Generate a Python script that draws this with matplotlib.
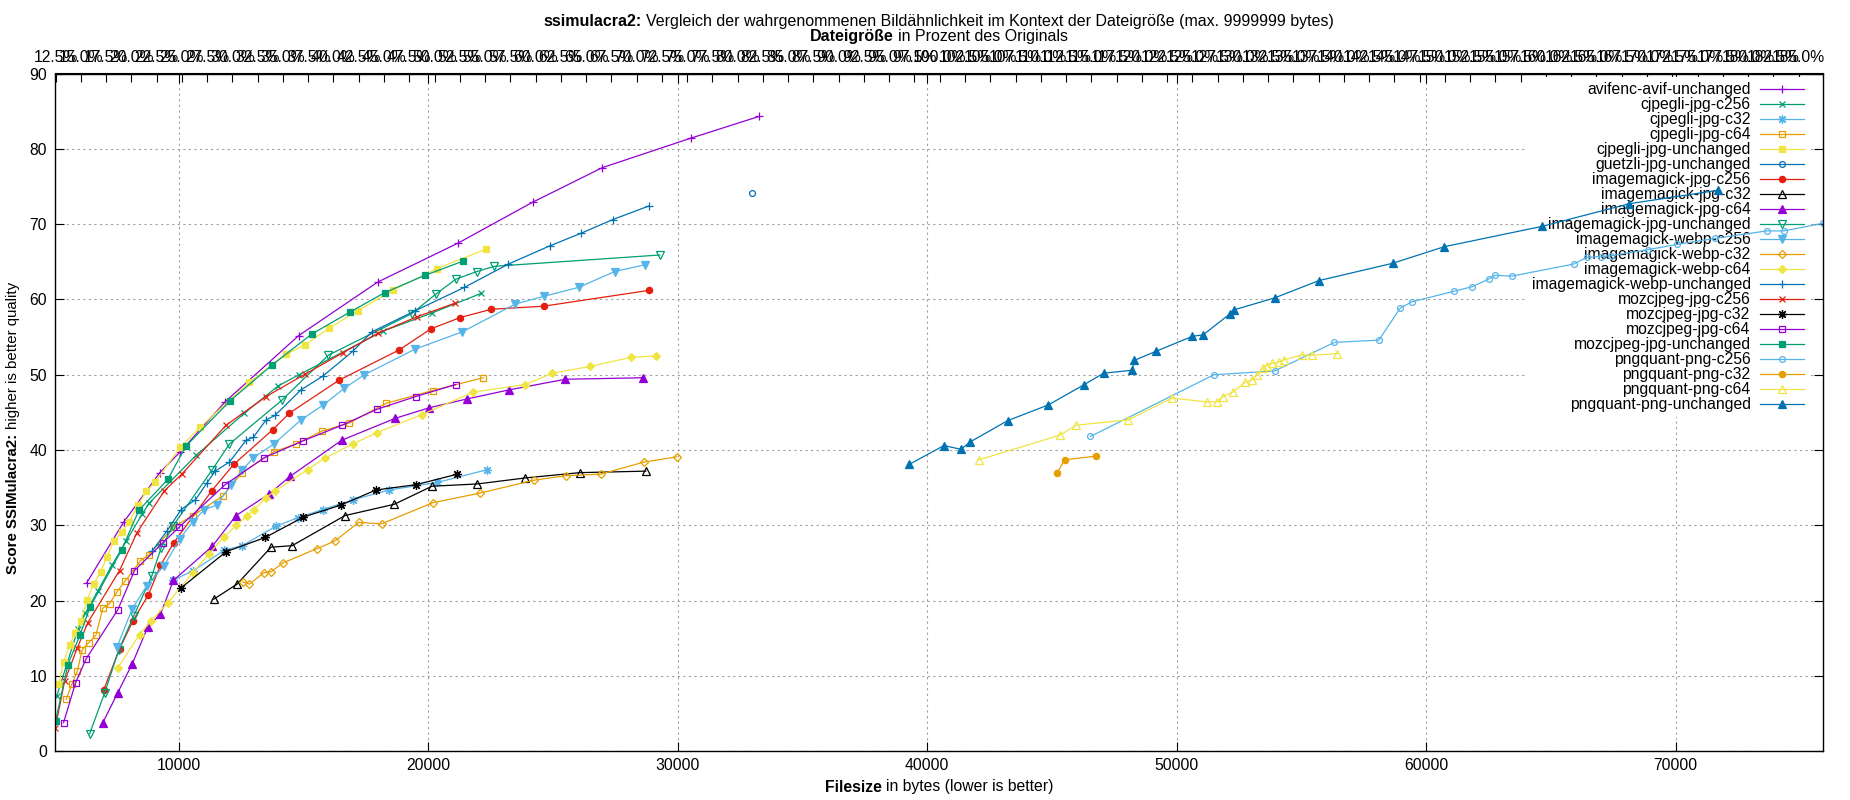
import numpy as np
import matplotlib
matplotlib.use("Agg")
import matplotlib.pyplot as plt
from matplotlib.lines import Line2D

FONT = "Liberation Sans"
FS = 11.3
plt.rcParams['font.family'] = [FONT, 'DejaVu Sans']

# ---------------- data ----------------
series_names = [
    "avifenc-avif-unchanged", "cjpegli-jpg-c256", "cjpegli-jpg-c32", "cjpegli-jpg-c64",
    "cjpegli-jpg-unchanged", "guetzli-jpg-unchanged", "imagemagick-jpg-c256", "imagemagick-jpg-c32",
    "imagemagick-jpg-c64", "imagemagick-jpg-unchanged", "imagemagick-webp-c256", "imagemagick-webp-c32",
    "imagemagick-webp-c64", "imagemagick-webp-unchanged", "mozcjpeg-jpg-c256", "mozcjpeg-jpg-c32",
    "mozcjpeg-jpg-c64", "mozcjpeg-jpg-unchanged", "pngquant-png-c256", "pngquant-png-c32",
    "pngquant-png-c64", "pngquant-png-unchanged",
]

avifenc_avif_unchanged_x = [6315, 7784, 9239, 10067, 11856, 14806, 17970, 21205, 24178, 26976, 30511, 33256]
avifenc_avif_unchanged_y = [22.4, 30.4, 37.0, 39.8, 46.4, 55.2, 62.3, 67.5, 72.9, 77.5, 81.4, 84.3]

cjpegli_jpg_c256_x = [5114, 5955, 6249, 6756, 7317, 7891, 8531, 8825, 10694, 12630, 13978, 14819, 18197, 20147, 22116]
cjpegli_jpg_c256_y = [7.4, 16.2, 18.3, 21.3, 24.7, 27.9, 31.5, 33.0, 39.3, 44.9, 48.5, 50.0, 55.8, 58.2, 60.8]

cjpegli_jpg_c32_x = [9760, 10587, 11829, 12537, 13898, 14766, 15767, 16995, 18437, 20362, 22370]
cjpegli_jpg_c32_y = [22.7, 24.0, 26.7, 27.3, 29.9, 31.0, 32.1, 33.4, 34.7, 35.7, 37.4]

cjpegli_jpg_c64_x = [5488, 5715, 5928, 6129, 6382, 6676, 6956, 7223, 7530, 7851, 8465, 8798, 9786, 10561,
                     11762, 12537, 13832, 14699, 15727, 16835, 18304, 20173, 22209]
cjpegli_jpg_c64_y = [6.9, 8.9, 10.6, 13.5, 14.4, 15.4, 19.0, 19.6, 21.2, 22.6, 25.3, 26.1, 29.8, 31.3,
                     33.9, 37.0, 39.8, 40.8, 42.5, 43.6, 46.2, 47.9, 49.6]

cjpegli_jpg_unchanged_x = [5194, 5381, 5621, 5835, 6075, 6329, 6582, 6863, 7116, 7397, 7717, 7997, 8371, 8692,
                           9039, 10067, 10841, 12830, 14299, 15073, 16034, 17169, 18571, 20347, 22330]
cjpegli_jpg_unchanged_y = [9.0, 11.8, 14.1, 15.7, 17.3, 20.1, 22.2, 23.8, 25.8, 27.9, 29.1, 30.4, 32.7, 34.5,
                           35.7, 40.4, 43.0, 49.0, 52.7, 54.0, 56.2, 58.5, 61.2, 64.1, 66.7]

guetzli_jpg_unchanged_x = [32975]
guetzli_jpg_unchanged_y = [74.1]

imagemagick_jpg_c256_x = [6996, 7624, 8158, 8785, 9266, 9800, 11322, 12203, 13765, 14432, 16435, 18838, 20107,
                          21285, 22531, 24620, 28837]
imagemagick_jpg_c256_y = [8.2, 13.6, 17.3, 20.8, 24.7, 27.7, 34.6, 38.1, 42.7, 44.9, 49.3, 53.3, 56.1,
                          57.6, 58.7, 59.1, 61.2]

imagemagick_jpg_c32_x = [11402, 12336, 13698, 14539, 16662, 18637, 20150, 21968, 23896, 26066, 28717]
imagemagick_jpg_c32_y = [20.2, 22.2, 27.1, 27.3, 31.3, 32.8, 35.2, 35.5, 36.3, 37.0, 37.2]

imagemagick_jpg_c64_x = [6956, 7557, 8131, 8758, 9266, 9786, 11335, 12296, 13631, 14459, 16528, 18664, 20020,
                         21567, 23254, 25490, 28596]
imagemagick_jpg_c64_y = [3.8, 7.8, 11.6, 16.5, 18.2, 22.7, 27.2, 31.3, 34.2, 36.5, 41.3, 44.2, 45.6,
                         46.8, 48.0, 49.4, 49.6]

imagemagick_jpg_unchanged_x = [6422, 7023, 7597, 8198, 8919, 9292, 9760, 11322, 12029, 14125, 15994, 19332,
                               20300, 21111, 21942, 22651, 29279]
imagemagick_jpg_unchanged_y = [2.3, 7.7, 13.5, 18.0, 23.3, 27.0, 29.9, 37.3, 40.8, 46.6, 52.6, 58.1,
                               60.7, 62.7, 63.7, 64.4, 65.9]

imagemagick_webp_c256_x = [7530, 8131, 8718, 9399, 10040, 10561, 11028, 11522, 12096, 12537, 12964, 13805,
                           14899, 15794, 16635, 17436, 19470, 21366, 23495, 24620, 26026, 27472, 28677]
imagemagick_webp_c256_y = [13.9, 18.9, 22.0, 24.6, 28.2, 30.5, 32.1, 32.7, 35.4, 37.3, 38.9, 40.8,
                           44.0, 46.0, 48.2, 50.0, 53.4, 55.7, 59.4, 60.4, 61.6, 63.7, 64.6]

imagemagick_webp_c32_x = [12563, 12830, 13404, 13685, 14165, 15527, 16248, 17209, 18130, 20173, 22089, 24245,
                          25517, 26923, 28637, 29962]
imagemagick_webp_c32_y = [22.5, 22.2, 23.7, 23.8, 25.0, 26.9, 27.9, 30.4, 30.2, 33.0, 34.3, 36.0,
                          36.6, 36.8, 38.4, 39.1]

imagemagick_webp_c64_x = [7557, 8425, 8892, 9559, 10561, 11202, 11829, 12296, 12724, 13004, 13498, 13872,
                          15166, 15847, 16969, 17930, 19740, 21808, 23883, 24968, 26468, 28115, 29119]
imagemagick_webp_c64_y = [11.1, 15.5, 17.3, 19.7, 23.7, 26.2, 28.5, 30.0, 31.2, 32.0, 33.7, 34.6,
                          37.4, 38.9, 40.8, 42.3, 44.7, 47.7, 48.7, 50.2, 51.1, 52.3, 52.5]

imagemagick_webp_unchanged_x = [8932, 9533, 10093, 10668, 11121, 11455, 12029, 12697, 12990, 13498, 13858,
                                14899, 15767, 16969, 17743, 19478, 21446, 23214, 24861, 26133, 27391, 28837]
imagemagick_webp_unchanged_y = [26.6, 29.3, 32.1, 33.4, 35.6, 37.2, 38.4, 41.3, 41.7, 44.0, 44.6,
                                48.0, 49.8, 53.1, 55.7, 58.5, 61.6, 64.7, 67.1, 68.8, 70.6, 72.4]

mozcjpeg_jpg_c256_x = [5050, 5421, 5928, 6356, 7624, 8318, 9426, 10120, 11896, 13498, 15073, 16568, 17970,
                       19550, 21071]
mozcjpeg_jpg_c256_y = [3.1, 9.3, 13.7, 17.1, 24.0, 29.0, 34.6, 36.8, 43.3, 47.1, 50.1, 52.9, 55.5,
                       57.7, 59.5]

mozcjpeg_jpg_c32_x = [10093, 11896, 13471, 14993, 16502, 17903, 19505, 21165]
mozcjpeg_jpg_c32_y = [21.7, 26.5, 28.4, 31.1, 32.7, 34.7, 35.4, 36.8]

mozcjpeg_jpg_c64_x = [5381, 5862, 6289, 7557, 8224, 9359, 10027, 11856, 13431, 14966, 16542, 17930, 19490, 21098]
mozcjpeg_jpg_c64_y = [3.8, 9.1, 12.3, 18.8, 24.0, 27.7, 29.8, 35.4, 39.0, 41.2, 43.3, 45.4, 47.1, 48.7]

mozcjpeg_jpg_unchanged_x = [5060, 5554, 6035, 6449, 7704, 8398, 9559, 10280, 12043, 13738, 15327, 16849,
                            18250, 19866, 21406]
mozcjpeg_jpg_unchanged_y = [4.0, 11.5, 15.4, 19.2, 26.7, 32.0, 36.1, 40.5, 46.5, 51.3, 55.4, 58.3,
                            60.9, 63.2, 65.1]

pngquant_png_c256_x = [46539, 51491, 53919, 56323, 58102, 58968, 59448, 61131, 61853, 62502, 62742, 63439,
                       65915, 66444, 67010, 67412, 68872, 70050, 71565, 73656, 74329, 75892]
pngquant_png_c256_y = [41.8, 50.0, 50.5, 54.3, 54.6, 58.9, 59.7, 61.1, 61.7, 62.7, 63.2, 63.1,
                       64.7, 65.6, 65.7, 65.8, 66.6, 67.3, 68.1, 69.1, 69.1, 70.1]

pngquant_png_c32_x = [45217, 45505, 46779]
pngquant_png_c32_y = [37.0, 38.7, 39.2]

pngquant_png_c64_x = [42067, 45337, 45962, 48053, 49808, 51202, 51611, 51852, 52260, 52741, 53005, 53222,
                      53462, 53606, 53823, 54087, 54304, 55001, 55434, 56443]
pngquant_png_c64_y = [38.7, 42.0, 43.3, 44.0, 46.9, 46.4, 46.4, 47.1, 47.7, 49.0, 49.3, 50.0,
                      50.9, 51.2, 51.5, 51.7, 52.0, 52.6, 52.6, 52.8]

pngquant_png_unchanged_x = [39279, 40673, 41346, 41731, 43221, 44856, 46298, 47068, 48222, 48294, 49159,
                            50626, 51058, 52140, 52284, 53919, 55698, 58655, 60722, 64641, 68127, 71705]
pngquant_png_unchanged_y = [38.1, 40.6, 40.1, 41.1, 43.9, 46.0, 48.7, 50.2, 50.6, 51.9, 53.1,
                            55.1, 55.3, 58.1, 58.6, 60.2, 62.5, 64.8, 67.0, 69.7, 72.7, 74.5]

series_x = [avifenc_avif_unchanged_x, cjpegli_jpg_c256_x, cjpegli_jpg_c32_x, cjpegli_jpg_c64_x,
            cjpegli_jpg_unchanged_x, guetzli_jpg_unchanged_x, imagemagick_jpg_c256_x, imagemagick_jpg_c32_x,
            imagemagick_jpg_c64_x, imagemagick_jpg_unchanged_x, imagemagick_webp_c256_x, imagemagick_webp_c32_x,
            imagemagick_webp_c64_x, imagemagick_webp_unchanged_x, mozcjpeg_jpg_c256_x, mozcjpeg_jpg_c32_x,
            mozcjpeg_jpg_c64_x, mozcjpeg_jpg_unchanged_x, pngquant_png_c256_x, pngquant_png_c32_x,
            pngquant_png_c64_x, pngquant_png_unchanged_x]
series_y = [avifenc_avif_unchanged_y, cjpegli_jpg_c256_y, cjpegli_jpg_c32_y, cjpegli_jpg_c64_y,
            cjpegli_jpg_unchanged_y, guetzli_jpg_unchanged_y, imagemagick_jpg_c256_y, imagemagick_jpg_c32_y,
            imagemagick_jpg_c64_y, imagemagick_jpg_unchanged_y, imagemagick_webp_c256_y, imagemagick_webp_c32_y,
            imagemagick_webp_c64_y, imagemagick_webp_unchanged_y, mozcjpeg_jpg_c256_y, mozcjpeg_jpg_c32_y,
            mozcjpeg_jpg_c64_y, mozcjpeg_jpg_unchanged_y, pngquant_png_c256_y, pngquant_png_c32_y,
            pngquant_png_c64_y, pngquant_png_unchanged_y]

original_size = 40500  # bytes (100 %)
x_ticks = [10000, 20000, 30000, 40000, 50000, 60000, 70000]
y_ticks = [0, 10, 20, 30, 40, 50, 60, 70, 80, 90]
pct_ticks = list(np.arange(12.5, 185.01, 2.5))

# ---------------- styles (gnuplot default cycles) ----------------
palette = ["#9400D3", "#009E73", "#56B4E9", "#E69F00", "#F0E442", "#0072B2", "#E51E10", "#000000"]
# (marker, filled, size)
ptypes = [("+", True, 6.0), ("x", True, 5.0), ((8, 2, 0), True, 6.5), ("s", False, 4.8), ("s", True, 5.0),
          ("o", False, 4.2), ("o", True, 4.5), ("^", False, 5.5), ("^", True, 5.5), ("v", False, 5.5),
          ("v", True, 5.5), ("D", False, 4.0), ("D", True, 4.0)]

W, H = 1850, 800
fig = plt.figure(figsize=(W / 100, H / 100), dpi=100)
L, R, T, B = 55.3, 1822.7, 73.5, 751.3
ax = fig.add_axes([L / W, 1 - B / H, (R - L) / W, (B - T) / H])

handles = []
for i, (name, xs, ys) in enumerate(zip(series_names, series_x, series_y)):
    col = palette[i % 8]
    mk, filled, ms = ptypes[i % 13]
    kw = dict(color=col, lw=0.9, marker=mk, markersize=ms, markeredgewidth=0.9,
              markeredgecolor=col, markerfacecolor=col if filled else "none")
    ax.plot(xs, ys, **kw)
    handles.append(Line2D([], [], **kw))

allx = [v for xs in series_x for v in xs]
ax.set_xlim(min(allx), max(allx))
ax.set_ylim(0, 90)
ax.set_xticks(x_ticks)
ax.set_yticks(y_ticks)
ax.set_xticklabels([str(v) for v in x_ticks])
ax.tick_params(direction="in", length=6.5, width=0.8, labelsize=FS, top=True, right=True,
               pad=5, colors="black")
ax.tick_params(axis="y", pad=6)
ax.grid(True, color="#a0a0a0", linestyle=(0, (2.0, 3.0)), linewidth=0.8)
ax.set_axisbelow(True)
for s in ax.spines.values():
    s.set_linewidth(1.0)

sec = ax.secondary_xaxis("top", functions=(lambda x: x / original_size * 100,
                                           lambda p: p * original_size / 100))
sec.set_xticks(pct_ticks)
sec.set_xticklabels(["%.1f%%" % p for p in pct_ticks])
sec.tick_params(direction="in", length=6.5, width=0.8, labelsize=FS, pad=6)

leg = ax.legend(handles, series_names, loc="upper right", bbox_to_anchor=(1 - 14 / (R - L), 1 - 4 / (B - T)),
                markerfirst=False, fontsize=FS, labelspacing=0.0, handlelength=2.8, handletextpad=0.6,
                borderpad=0.3, borderaxespad=0.0, frameon=True, fancybox=False, framealpha=1.0,
                facecolor="white", edgecolor="none")
leg.set_zorder(1)

# ---------------- mixed bold / normal texts ----------------
renderer = fig.canvas.get_renderer()


def text_width(s, weight, fs):
    t = fig.text(0, 0, s, fontsize=fs, fontweight=weight)
    w = t.get_window_extent(renderer=renderer).width
    t.remove()
    return w


def rich(parts, cx, cy_top, rotation=0, fs=FS):
    space_w = text_width("x x", "normal", fs) - text_width("xx", "normal", fs)
    widths = [text_width(s, w, fs) for s, w in parts]
    total = sum(widths) + space_w * (len(parts) - 1)
    pos = (cx - total / 2) if rotation == 0 else ((H - cy_top) - total / 2)
    for (s, w), wd in zip(parts, widths):
        if rotation == 0:
            fig.text(pos / W, 1 - cy_top / H, s, fontsize=fs, fontweight=w, ha="left", va="center")
        else:
            fig.text(cx / W, pos / H, s, fontsize=fs, fontweight=w, ha="center", va="bottom", rotation=90)
        pos += wd + space_w


CX = (L + R) / 2
rich([("ssimulacra2:", "bold"),
      ("Vergleich der wahrgenommenen Bildähnlichkeit im Kontext der Dateigröße (max. 9999999 bytes)", "normal")],
     CX, 21.5, fs=11.5)
rich([("Dateigröße", "bold"), ("in Prozent des Originals", "normal")], CX, 37.0, fs=11.5)
rich([("Filesize", "bold"), ("in bytes (lower is better)", "normal")], CX, 787)
rich([("Score SSIMulacra2:", "bold"), ("higher is better quality", "normal")], 13, 428, rotation=90, fs=10.8)

fig.savefig("out.png", dpi=100)
